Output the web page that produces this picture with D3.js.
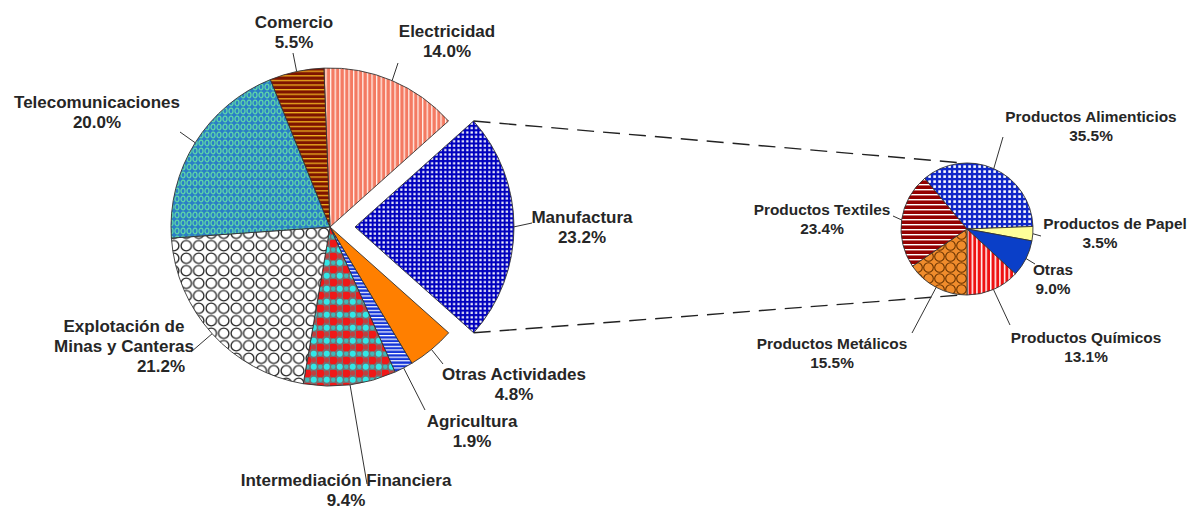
<!DOCTYPE html>
<html><head><meta charset="utf-8">
<script src="https://cdn.jsdelivr.net/npm/d3@7"></script>
<style>html,body{margin:0;padding:0;background:#fff;}svg{display:block;}</style>
</head><body>
<script>
// ---- data ----
const mainCategories = ["Electricidad","Manufactura","Otras Actividades","Agricultura","Intermediación Financiera","Explotación de Minas y Canteras","Telecomunicaciones","Comercio"];
const mainValues = [14.0, 23.2, 4.8, 1.9, 9.4, 21.2, 20.0, 5.5];
const mainPctLabels = ["14.0%","23.2%","4.8%","1.9%","9.4%","21.2%","20.0%","5.5%"];
const subCategories = ["Productos Alimenticios","Productos de Papel","Otras","Productos Químicos","Productos Metálicos","Productos Textiles"];
const subValues = [35.5, 3.5, 9.0, 13.1, 15.5, 23.4];
const subPctLabels = ["35.5%","3.5%","9.0%","13.1%","15.5%","23.4%"];

// ---- layout ----
const W = 1197, H = 509;
const mainC = {x: 330, y: 227}, mainR = 159, explode = 25;
const subC = {x: 967, y: 229}, subR = 66;
const deg = Math.PI/180;

const svg = d3.select("body").append("svg").attr("width", W).attr("height", H);
const defs = svg.append("defs");

function pat(id, w, h, bg, draw){
  const p = defs.append("pattern").attr("id", id).attr("patternUnits","userSpaceOnUse").attr("width", w).attr("height", h);
  p.append("rect").attr("width", w).attr("height", h).attr("fill", bg);
  if (draw) draw(p);
}
pat("pElec", 4.6, 10, "#F47A62", p => p.append("rect").attr("x",0).attr("width",1.3).attr("height",10).attr("fill","#FFF0EA"));
pat("pCom", 10, 4.6, "#7E1400", p => p.append("rect").attr("y",0).attr("width",10).attr("height",1.3).attr("fill","#EFB020"));
pat("pTel", 6, 8, "#2A7EC6", p => p.append("ellipse").attr("cx",3).attr("cy",4).attr("rx",2).attr("ry",2.8).attr("fill","none").attr("stroke","#5ED6A8").attr("stroke-width",1.3));
pat("pMin", 12.5, 12.5, "#FFFFFF", p => p.append("circle").attr("cx",6.25).attr("cy",6.25).attr("r",5.2).attr("fill","#fff").attr("stroke","#222").attr("stroke-width",1.3));
pat("pInt", 13, 13, "#7A6E70", p => {
  p.append("circle").attr("cx",3.25).attr("cy",3.25).attr("r",4.3).attr("fill","#F01818");
  p.append("circle").attr("cx",9.75).attr("cy",9.75).attr("r",3.0).attr("fill","#30E8E8");
  p.append("circle").attr("cx",9.75).attr("cy",3.25).attr("r",2.4).attr("fill","#C04040");
  p.append("circle").attr("cx",3.25).attr("cy",9.75).attr("r",2.2).attr("fill","#40B8B8");
});
pat("pAgr", 10, 3.6, "#1435D8", p => p.append("rect").attr("width",10).attr("height",1.2).attr("fill","#fff"));
pat("pMan", 4.4, 4.4, "#0000BE", p => p.append("rect").attr("x",1.2).attr("y",1.2).attr("width",2.2).attr("height",2.2).attr("fill","#fff"));
pat("pAli", 5, 5, "#1028C8", p => p.append("rect").attr("x",1.3).attr("y",1.3).attr("width",2.6).attr("height",2.6).attr("fill","#fff"));
pat("pQui", 4.6, 10, "#EE1111", p => p.append("rect").attr("width",1.5).attr("height",10).attr("fill","#fff"));
pat("pMet", 11, 11, "#F08C2C", p => p.append("circle").attr("cx",5.5).attr("cy",5.5).attr("r",4.8).attr("fill","none").attr("stroke","#6A3300").attr("stroke-width",1.1));
pat("pTex", 10, 5, "#940000", p => p.append("rect").attr("width",10).attr("height",1.4).attr("fill","#fff"));

const mainFills = ["url(#pElec)","url(#pMan)","#FF7F00","url(#pAgr)","url(#pInt)","url(#pMin)","url(#pTel)","url(#pCom)"];
const subFills = ["url(#pAli)","#FFFF99","#0A3FC8","url(#pQui)","url(#pMet)","url(#pTex)"];

const mainStart = -2.2*deg, subStart = -40*deg;
const mainPie = d3.pie().sort(null).startAngle(mainStart).endAngle(mainStart + 2*Math.PI);
const subPie = d3.pie().sort(null).startAngle(subStart).endAngle(subStart + 2*Math.PI);
const mainArcs = mainPie(mainValues);
const subArcs = subPie(subValues);
const mainArc = d3.arc().innerRadius(0).outerRadius(mainR);
const subArc = d3.arc().innerRadius(0).outerRadius(subR);
const EXPLODED = 1;
function offset(d, i){
  if (i !== EXPLODED) return [0,0];
  const m = (d.startAngle + d.endAngle)/2;
  return [explode*Math.sin(m), -explode*Math.cos(m)];
}

// main pie
const gMain = svg.append("g").attr("transform", `translate(${mainC.x},${mainC.y})`);
gMain.selectAll("path").data(mainArcs).join("path")
  .attr("d", mainArc)
  .attr("transform", (d,i) => { const o = offset(d,i); return `translate(${o[0]},${o[1]})`; })
  .attr("fill", (d,i) => mainFills[i])
  .attr("stroke", "#333").attr("stroke-width", 0.9);

// sub pie
const gSub = svg.append("g").attr("transform", `translate(${subC.x},${subC.y})`);
gSub.selectAll("path").data(subArcs).join("path")
  .attr("d", subArc)
  .attr("fill", (d,i) => subFills[i])
  .attr("stroke", "#333").attr("stroke-width", 0.9);

// connector dashed lines
const man = mainArcs[EXPLODED], mo = offset(man, EXPLODED);
function edgePt(c, r, a, o){ return [c.x + o[0] + r*Math.sin(a), c.y + o[1] - r*Math.cos(a)]; }
const pTop = edgePt(mainC, mainR, man.startAngle, mo), pBot = edgePt(mainC, mainR, man.endAngle, mo);
const conn = [[pTop, [subC.x - 4, subC.y - subR]], [pBot, [subC.x - 6, subC.y + subR]]];
svg.selectAll("line.conn").data(conn).join("line").attr("class","conn")
  .attr("x1", d=>d[0][0]).attr("y1", d=>d[0][1]).attr("x2", d=>d[1][0]).attr("y2", d=>d[1][1])
  .attr("stroke", "#222").attr("stroke-width", 1.4).attr("stroke-dasharray", "17,9");

// labels: lines, text center x, first baseline, leader anchor
const mainLabelLayout = [
  {lines:["Electricidad"], x:447, y:37, anchor:[398,63]},
  {lines:["Manufactura"], x:582, y:223, anchor:[532,223]},
  {lines:["Otras Actividades"], x:514, y:380, anchor:[443,364]},
  {lines:["Agricultura"], x:472, y:427, anchor:[425,410]},
  {lines:["Intermediación Financiera"], x:346, y:486, anchor:[367,484]},
  {lines:["Explotación de","Minas y Canteras"], x:124, y:332, anchor:[191,352], pctX:161},
  {lines:["Telecomunicaciones"], x:97, y:108, anchor:[180,132]},
  {lines:["Comercio"], x:294, y:28, anchor:[293,53]}
];
const subLabelLayout = [
  {lines:["Productos Alimenticios"], x:1091, y:122, anchor:[1003,137]},
  {lines:["Productos de Papel"], x:1115, y:229, anchor:[1041,236], pctX:1100},
  {lines:["Otras"], x:1053, y:275, anchor:[1035,264]},
  {lines:["Productos Químicos"], x:1086, y:343, anchor:[1010,325]},
  {lines:["Productos Metálicos"], x:832, y:349, anchor:[912,333]},
  {lines:["Productos Textiles"], x:822, y:215, anchor:[893,216]}
];

function drawLabels(arcs, layout, pcts, c, r, offs, fontSize, lh){
  arcs.forEach((d,i) => {
    const L = layout[i];
    const m = (d.startAngle + d.endAngle)/2;
    const e = edgePt(c, r, m, offs(d,i));
    svg.append("line").attr("x1", e[0]).attr("y1", e[1]).attr("x2", L.anchor[0]).attr("y2", L.anchor[1])
      .attr("stroke", "#333").attr("stroke-width", 1);
    const t = svg.append("g").attr("font-family", "'Liberation Sans', Arial, sans-serif")
      .attr("font-weight", "bold").attr("font-size", fontSize).attr("fill", "#262626").attr("text-anchor", "middle");
    L.lines.forEach((s, k) => t.append("text").attr("x", L.x).attr("y", L.y + k*lh).text(s));
    t.append("text").attr("x", L.pctX || L.x).attr("y", L.y + L.lines.length*lh).text(pcts[i]);
  });
}
drawLabels(mainArcs, mainLabelLayout, mainPctLabels, mainC, mainR, offset, 17, 20);
drawLabels(subArcs, subLabelLayout, subPctLabels, subC, subR, () => [0,0], 15.4, 19);
</script>
</body></html>
